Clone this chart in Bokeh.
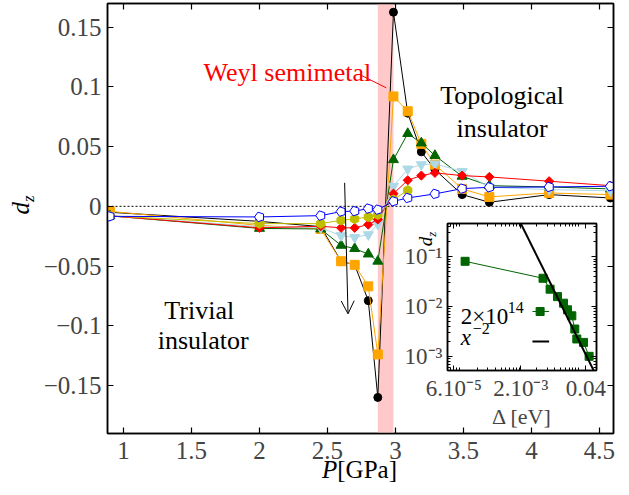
import math
from bokeh.plotting import figure
from bokeh.models import (Range1d, LinearAxis, LogAxis, FixedTicker, Span, BoxAnnotation,
                          Label, Arrow, OpenHead, Div)
from bokeh.embed import file_html
from bokeh.resources import INLINE

SERIF = "Liberation Serif"

# ---------------- data (main panel) ----------------
pressure = [0.9, 2.0, 2.45, 2.6, 2.7, 2.8, 2.87, 2.985, 3.09, 3.19, 3.29, 3.49, 3.69, 4.13, 4.58]
dz_black = [-0.005, -0.0126, -0.017, -0.046, -0.049, -0.079, -0.160, 0.1625, 0.078, 0.0456,
            0.0307, 0.0098, 0.0034, 0.0098, 0.007]
dz_orange = [-0.0042, -0.016, -0.019, -0.046, -0.049, -0.067, -0.124, 0.092, 0.0796, 0.0523,
             0.0349, 0.0146, 0.0079, 0.0112, 0.0098]
dz_green = [-0.008, -0.0185, -0.019, -0.0327, -0.0354, -0.040, -0.046, 0.039, 0.0609, 0.053,
            0.0425, 0.0251, 0.0173, 0.0162, 0.0146]
dz_lightblue = [-0.008, -0.017, -0.018, -0.0245, -0.026, -0.0237, -0.015, 0.0168, 0.0313, 0.0349,
                0.0355, 0.0293, 0.016, 0.014, 0.013]
dz_red = [-0.008, -0.018, -0.0167, -0.018, -0.018, -0.0153, -0.011, 0.0106, 0.0218, 0.0257,
          0.028, 0.0257, 0.0246, 0.021, 0.0173]
pressure_yellow = [0.9, 2.0, 2.45, 2.6, 2.7, 2.8, 2.87, 2.985, 3.09]
dz_yellow = [-0.008, -0.0145, -0.0145, -0.0117, -0.0106, -0.0089, -0.007, 0.0056, 0.0134]
pressure_blue = [0.9, 2.0, 2.45, 2.6, 2.7, 2.8, 2.87, 2.985, 3.09, 3.29, 3.49, 3.69, 4.13, 4.58]
dz_blue = [-0.0084, -0.0089, -0.0078, -0.0044, -0.004, -0.0019, -0.0028, 0.0042, 0.007, 0.0104,
           0.0148, 0.0159, 0.0162, 0.0168]

weyl_band = [2.87, 2.985]

x_ticks = [1, 1.5, 2, 2.5, 3, 3.5, 4, 4.5]
x_tick_labels = ["1", "1.5", "2", "2.5", "3", "3.5", "4", "4.5"]
y_ticks = [-0.15, -0.1, -0.05, 0, 0.05, 0.1, 0.15]
y_tick_labels = ["\u22120.15", "\u22120.1", "\u22120.05", "0", "0.05", "0.1", "0.15"]

# ---------------- data (inset) ----------------
gap_ev = [1.245e-4, 2.53e-3, 3.32e-3, 4.42e-3, 5.57e-3, 6.5e-3, 7.69e-3, 8.63e-3, 9.32e-3,
          1.208e-2, 1.50e-2]
dz_abs = [0.0811, 0.0371, 0.0224, 0.0159, 0.01175, 0.00864, 0.00656, 0.00356, 0.00225,
          0.00192, 0.00101]
fit_x = [7.94e-4, 1.995e-2]
fit_y = [0.955, 4.04e-4]

inset_x_ticks = [8.05e-5, 1.07e-3, 1.32e-2]
inset_x_tick_labels = ["6.10\u207b\u2075", "2.10\u207b\u00b3", "0.04"]
inset_y_ticks = [1e-3, 1e-2, 1e-1]
inset_y_tick_labels = ["10\u207b\u00b3", "10\u207b\u00b2", "10\u207b\u00b9"]

# ---------------- main figure ----------------
p = figure(width=628, height=494, x_range=Range1d(0.8824, 4.603), y_range=Range1d(-0.1902, 0.1698),
           output_backend="svg", toolbar_location=None,
           min_border_left=107, min_border_right=15, min_border_top=3, min_border_bottom=61)
p.xgrid.visible = False
p.ygrid.visible = False
p.outline_line_color = "black"
p.outline_line_width = 1.5
p.background_fill_color = "white"
p.border_fill_color = "white"


def style_axis(ax, ticks, labels, show, standoff, size="25px"):
    ax.ticker = FixedTicker(ticks=ticks)
    ax.major_label_overrides = {t: l for t, l in zip(ticks, labels)}
    ax.major_tick_in = 6
    ax.major_tick_out = 0
    ax.major_tick_line_width = 1.2
    ax.minor_tick_line_color = None
    ax.axis_line_width = 1.5
    ax.major_label_text_font = SERIF
    if show:
        ax.major_label_text_font_size = size
        ax.major_label_standoff = standoff
    else:
        ax.major_label_text_font_size = "1px"
        ax.major_label_text_color = None
        ax.major_label_standoff = 0
    ax.axis_label = None


style_axis(p.xaxis[0], x_ticks, x_tick_labels, True, 8)
style_axis(p.yaxis[0], y_ticks, y_tick_labels, True, 6)
top_axis = LinearAxis()
right_axis = LinearAxis()
p.add_layout(top_axis, "above")
p.add_layout(right_axis, "right")
style_axis(top_axis, x_ticks, x_tick_labels, False, 0)
style_axis(right_axis, y_ticks, y_tick_labels, False, 0)

p.add_layout(BoxAnnotation(left=weyl_band[0], right=weyl_band[1], fill_color="#FFC9C9",
                           fill_alpha=1.0, line_color=None, level="underlay"))
p.add_layout(Span(location=0, dimension="width", line_color="black", line_width=1,
                  line_dash="2 2", level="underlay"))

series = [
    (pressure, dz_black, "black", "circle", 8, 0),
    (pressure, dz_orange, "orange", "square", 9, 0),
    (pressure, dz_green, "darkgreen", "triangle", 10, 0),
    (pressure, dz_lightblue, "lightblue", "inverted_triangle", 10, 0),
    (pressure, dz_red, "red", "square", 6.5, math.pi / 4),
    (pressure_yellow, dz_yellow, "#BFBF00", "hex", 9.5, math.pi / 6),
]
for xs, ys, col, mk, sz, ang in series:
    p.line(xs, ys, line_color=col, line_width=1)
    p.scatter(xs, ys, marker=mk, size=sz, angle=ang, fill_color=col, line_color=col)

p.line(pressure_blue, dz_blue, line_color="blue", line_width=1)
try:
    p.ngon(x=pressure_blue, y=dz_blue, radius=5, radius_units="screen", n=5,
           angle=math.pi / 2, fill_color="white", line_color="blue", line_width=1)
except Exception:
    p.scatter(pressure_blue, dz_blue, marker="hex", size=9, fill_color="white",
              line_color="blue")

# annotations
p.add_layout(Arrow(end=OpenHead(size=13, line_width=1, line_color="black"),
                   x_start=2.626, y_start=0.0197, x_end=2.651, y_end=-0.090,
                   line_width=1, line_color="black"))
p.line([2.749, 2.932], [0.1096, 0.0992], line_color="red", line_width=1)


def lab(fig, x, y, text, size="26px", color="black", align="center", style="normal",
        angle=0, xo=0, yo=0):
    fig.add_layout(Label(x=x, y=y, text=text, text_font=SERIF, text_font_size=size,
                         text_color=color, text_align=align, text_baseline="alphabetic",
                         text_font_style=style, angle=angle, x_offset=xo, y_offset=yo))


lab(p, 2.205, 0.112, "Weyl semimetal", color="red")
lab(p, 3.784, 0.0927, "Topological")
lab(p, 3.784, 0.0651, "insulator")
lab(p, 1.557, -0.0873, "Trivial")
lab(p, 1.586, -0.1124, "insulator")

# ---------------- inset ----------------
q = figure(frame_width=149, frame_height=147, x_axis_type="log", y_axis_type="log",
           x_range=Range1d(10 ** -4.2, 10 ** -1.7), y_range=Range1d(10 ** -3.28, 10 ** -0.333),
           output_backend="svg", toolbar_location=None,
           min_border_left=50, min_border_right=10, min_border_top=5, min_border_bottom=55)
q.xgrid.visible = False
q.ygrid.visible = False
q.outline_line_color = "black"
q.outline_line_width = 1.5
q.background_fill_color = "white"
q.border_fill_color = None
q.styles = {"position": "absolute", "left": "397px", "top": "218px"}

minor_x = [n * 10 ** k for k in range(-5, -1) for n in range(1, 10)]
minor_y = [n * 10 ** k for k in range(-4, 0) for n in range(1, 10)]


def style_log_axis(ax, ticks, labels, minor, show, size="23px"):
    ax.ticker = FixedTicker(ticks=ticks, minor_ticks=minor)
    ax.major_label_overrides = {t: l for t, l in zip(ticks, labels)}
    ax.major_tick_in = 5
    ax.major_tick_out = 0
    ax.minor_tick_in = 3
    ax.minor_tick_out = 0
    ax.axis_line_width = 1.5
    ax.major_label_text_font = SERIF
    if show:
        ax.major_label_text_font_size = size
        ax.major_label_standoff = 5
    else:
        ax.major_label_text_font_size = "1px"
        ax.major_label_text_color = None
        ax.major_label_standoff = 0


style_log_axis(q.xaxis[0], inset_x_ticks, inset_x_tick_labels, minor_x, True)
style_log_axis(q.yaxis[0], inset_y_ticks, inset_y_tick_labels, minor_y, True)
q.yaxis[0].axis_label = None
q.xaxis[0].axis_label = "\u0394 [eV]"
q.xaxis[0].axis_label_text_font = SERIF
q.xaxis[0].axis_label_text_font_size = "22px"
q.xaxis[0].axis_label_text_font_style = "normal"
q.xaxis[0].axis_label_standoff = 0
q_top = LogAxis()
q_right = LogAxis()
q.add_layout(q_top, "above")
q.add_layout(q_right, "right")
style_log_axis(q_top, inset_x_ticks, inset_x_tick_labels, minor_x, False)
style_log_axis(q_right, inset_y_ticks, inset_y_tick_labels, minor_y, False)

q.line(gap_ev, dz_abs, line_color="darkgreen", line_width=1)
q.scatter(gap_ev, dz_abs, marker="square", size=8, fill_color="darkgreen", line_color="darkgreen")
q.line(fit_x, fit_y, line_color="black", line_width=2)

# inset legend (labels left, handles right)
lab(q, 1.05e-4, 6.35e-3, "2\u00d710", size="23px", align="left")
lab(q, 1.05e-4, 6.35e-3, "14", size="16px", align="left", xo=47, yo=9)
lab(q, 1.05e-4, 2.39e-3, "x", size="23px", align="left", style="italic")
lab(q, 1.05e-4, 2.39e-3, "\u22122", size="16px", align="left", xo=12, yo=9)
q.line([1.68e-3, 3.2e-3], [8.0e-3, 8.0e-3], line_color="darkgreen", line_width=1)
q.scatter([2.26e-3], [8.0e-3], marker="square", size=8, fill_color="darkgreen",
          line_color="darkgreen")
q.line([1.68e-3, 3.2e-3], [2.01e-3, 2.01e-3], line_color="black", line_width=2)

# ---------------- axis titles (HTML text) ----------------
FONT_CSS = "font-family:'Liberation Serif',serif;white-space:nowrap;color:black"

x_title = Div(text=f'<span style="{FONT_CSS};font-size:25px"><i>P</i>[GPa]</span>',
              width=100, height=25,
              styles={"position": "absolute", "left": "322px", "top": "457px",
                      "line-height": "25px", "margin": "0"})


def rotated_title(cx, cy, big, small, drop):
    w, h = 40, 30
    html = (f'<span style="{FONT_CSS};font-size:{big}px"><i>d</i>'
            f'<i style="font-size:{small}px;position:relative;top:{drop}px">z</i></span>')
    return Div(text=html, width=w, height=h,
               styles={"position": "absolute", "left": f"{cx - w / 2}px",
                       "top": f"{cy - h / 2}px", "transform": "rotate(-90deg)",
                       "text-align": "center", "line-height": f"{h}px", "margin": "0"})


y_title = rotated_title(21, 205, 25, 17, 5)
inset_y_title = rotated_title(426, 238.5, 19, 13, 4)

open("out.html", "w").write(file_html([p, q, x_title, y_title, inset_y_title], INLINE))
